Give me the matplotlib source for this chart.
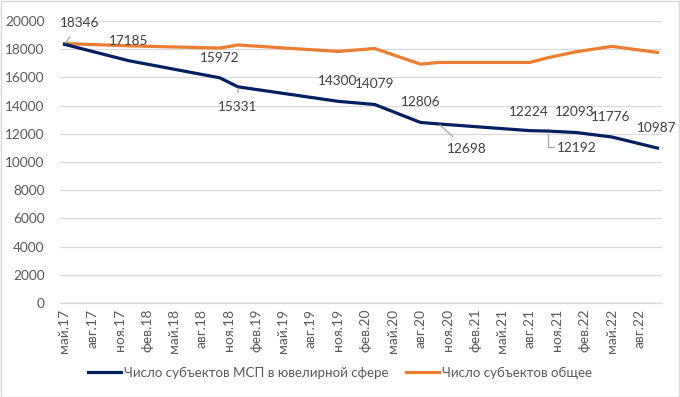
import matplotlib
matplotlib.use("Agg")
import matplotlib.pyplot as plt
import pandas as pd
from matplotlib.patches import Rectangle

plt.rcParams['font.family'] = ['Lato', 'DejaVu Sans']

# ---- data ----
dates = ["2017-05-01", "2017-12-01", "2018-10-01", "2018-12-01", "2019-11-01",
         "2020-03-01", "2020-08-01", "2020-10-01", "2021-08-01", "2021-10-01",
         "2022-01-01", "2022-05-01", "2022-10-01"]
jewelry = [18346, 17185, 15972, 15331, 14300, 14079, 12806, 12698, 12224,
           12192, 12093, 11776, 10987]
total = [18400, 18240, 18080, 18300, 17840, 18050, 16940, 17060, 17060,
         17400, 17810, 18200, 17770]
series_names = ["Число субъектов МСП в ювелирной сфере", "Число субъектов общее"]
tick_dates = ["2017-05-01", "2017-08-01", "2017-11-01", "2018-02-01", "2018-05-01",
              "2018-08-01", "2018-11-01", "2019-02-01", "2019-05-01", "2019-08-01",
              "2019-11-01", "2020-02-01", "2020-05-01", "2020-08-01", "2020-11-01",
              "2021-02-01", "2021-05-01", "2021-08-01", "2021-11-01", "2022-02-01",
              "2022-05-01", "2022-08-01"]
tick_labels = ["май.17", "авг.17", "ноя.17", "фев.18", "май.18", "авг.18", "ноя.18",
               "фев.19", "май.19", "авг.19", "ноя.19", "фев.20", "май.20", "авг.20",
               "ноя.20", "фев.21", "май.21", "авг.21", "ноя.21", "фев.22", "май.22",
               "авг.22"]
y_ticks = [0, 2000, 4000, 6000, 8000, 10000, 12000, 14000, 16000, 18000, 20000]

# ---- styling / label placement (pixels) ----
label_offsets = [(15, 21), (0, 20), (0, 20), (0, -20), (-1, 20), (0, 20), (0, 20),
                 (28, -25), (-1, 19), (29, -17), (-1, 20), (-1, 20), (-1, 20)]
leader = [True, False, False, True, False, False, False, True, False, 'elbow',
          False, False, False]

x = pd.to_datetime(dates)
tx = pd.to_datetime(tick_dates)

fig = plt.figure(figsize=(6.8, 3.97), dpi=100)
W, H = 680, 397
ax = fig.add_axes([60 / W, 1 - 303 / H, (662 - 60) / W, (303 - 21) / H])

navy = "#002060"
orange = "#ED7D31"
grid_c = "#D9D9D9"
txt_c = "#595959"
lead_c = "#A6A6A6"

ax.plot(x, jewelry, color=navy, lw=2.3, solid_joinstyle='round', zorder=3,
        label=series_names[0])
ax.plot(x, total, color=orange, lw=2.3, solid_joinstyle='round', zorder=2,
        label=series_names[1])

ax.set_ylim(0, 20000)
ax.set_yticks(y_ticks)
ax.set_yticklabels([str(v) for v in y_ticks])
ax.set_xlim(x.min() - pd.Timedelta(days=15), x.max() + pd.Timedelta(days=15))
ax.set_xticks(tx)
ax.set_xticklabels(tick_labels, rotation=90)

ax.grid(axis='y', color=grid_c, lw=0.9, zorder=0)
ax.set_axisbelow(True)
for s in ['top', 'right', 'left']:
    ax.spines[s].set_visible(False)
ax.spines['bottom'].set_color(grid_c)
ax.spines['bottom'].set_linewidth(0.9)
ax.tick_params(axis='y', length=0, labelsize=9.8, colors=txt_c, pad=11)
ax.tick_params(axis='x', length=0, labelsize=10, colors=txt_c, pad=4)

for i, (xd, v) in enumerate(zip(x, jewelry)):
    dx, dy = label_offsets[i]
    arrow = None
    if leader[i] is True:
        arrow = dict(arrowstyle='-', color=lead_c, lw=0.9, shrinkA=4, shrinkB=1)
    ax.annotate(str(v), (xd, v), xytext=(dx, dy), textcoords='offset pixels',
                ha='center', va='center', fontsize=9.8, color='#404040',
                arrowprops=arrow, zorder=5)
    if leader[i] == 'elbow':
        ax.annotate('', (xd, v), xytext=(dx - 23, dy + 1), textcoords='offset pixels',
                    arrowprops=dict(arrowstyle='-', color=lead_c, lw=0.9,
                                    shrinkA=0, shrinkB=2,
                                    connectionstyle='angle,angleA=0,angleB=90,rad=0'),
                    zorder=5)

fig.legend(loc='center', bbox_to_anchor=(0.5, 1 - 373 / H), ncol=2, frameon=False,
           fontsize=9.6, labelcolor=txt_c, handlelength=2.5, columnspacing=1.3,
           handletextpad=0.2)

fig.patches.append(Rectangle((0.5 / W, 0.5 / H), 1 - 1.5 / W, 1 - 1.5 / H,
                             transform=fig.transFigure, fill=False,
                             edgecolor=grid_c, lw=1))

fig.savefig("out.png", dpi=100)
